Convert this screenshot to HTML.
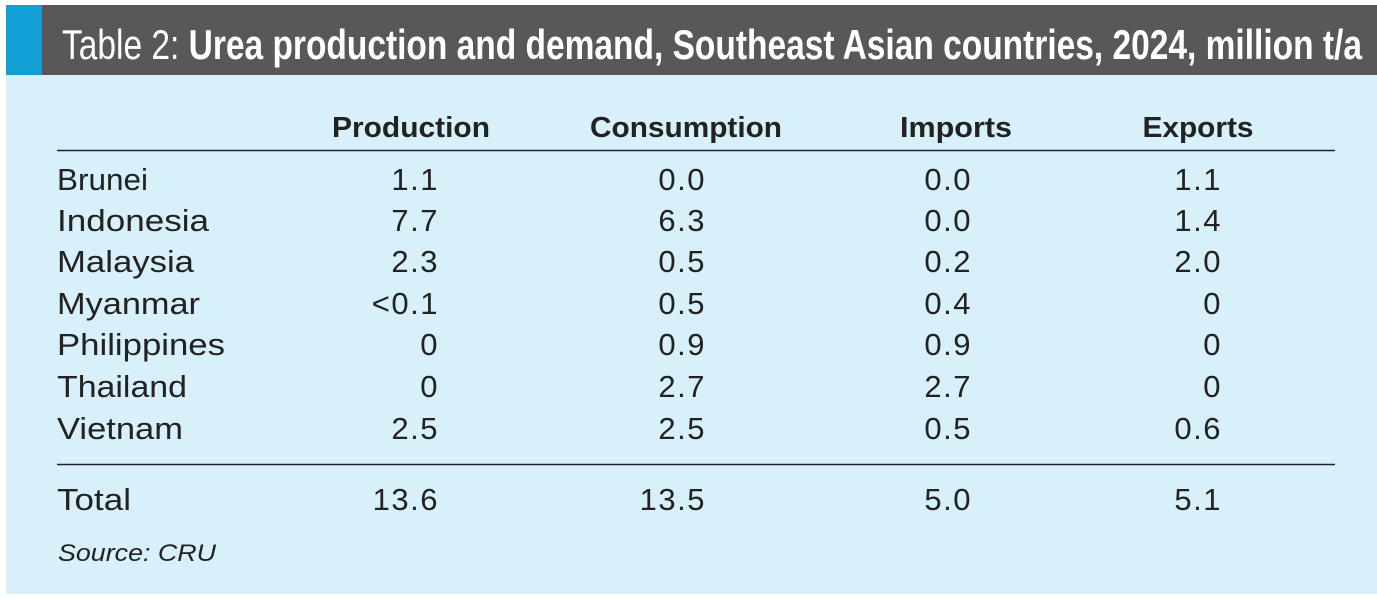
<!DOCTYPE html>
<html><head><meta charset="utf-8"><style>
html,body{margin:0;padding:0;background:#fff;}
svg{display:block}
</style></head><body>
<svg width="1377" height="599" xmlns="http://www.w3.org/2000/svg" font-family="Liberation Sans, sans-serif">
<rect x="0" y="0" width="1377" height="599" fill="#ffffff"/>
<rect x="6" y="75" width="1371" height="519" fill="#d7f0fa"/>
<rect x="6" y="5" width="36" height="70" fill="#119fd6"/>
<rect x="42" y="5" width="1335" height="70" fill="#595758"/>
<text x="62" y="59" font-size="42" fill="#fff" textLength="1300" lengthAdjust="spacingAndGlyphs">Table 2: <tspan font-weight="bold">Urea production and demand, Southeast Asian countries, 2024, million t/a</tspan></text>
<g font-size="29" font-weight="bold" fill="#222" text-anchor="middle">
<text x="411" y="137" textLength="158" lengthAdjust="spacingAndGlyphs">Production</text>
<text x="686" y="137" textLength="192" lengthAdjust="spacingAndGlyphs">Consumption</text>
<text x="956" y="137" textLength="112" lengthAdjust="spacingAndGlyphs">Imports</text>
<text x="1198" y="137" textLength="111" lengthAdjust="spacingAndGlyphs">Exports</text>
</g>
<line x1="57" y1="150.5" x2="1335" y2="150.5" stroke="#1c2430" stroke-width="1.5"/>
<line x1="57" y1="464.5" x2="1335" y2="464.5" stroke="#1c2430" stroke-width="1.5"/>
<g font-size="31" fill="#222" lengthAdjust="spacingAndGlyphs">
<text x="57" y="190" textLength="91" lengthAdjust="spacingAndGlyphs">Brunei</text>
<text x="57" y="231" textLength="152" lengthAdjust="spacingAndGlyphs">Indonesia</text>
<text x="57" y="272" textLength="137" lengthAdjust="spacingAndGlyphs">Malaysia</text>
<text x="57" y="314" textLength="143" lengthAdjust="spacingAndGlyphs">Myanmar</text>
<text x="57" y="355" textLength="168" lengthAdjust="spacingAndGlyphs">Philippines</text>
<text x="57" y="397" textLength="130" lengthAdjust="spacingAndGlyphs">Thailand</text>
<text x="57" y="439" textLength="126" lengthAdjust="spacingAndGlyphs">Vietnam</text>
<text x="57" y="510" textLength="74" lengthAdjust="spacingAndGlyphs">Total</text>
</g>
<g font-size="31" fill="#222" text-anchor="end" style="letter-spacing:1.5px">
<text x="439" y="190">1.1</text><text x="706" y="190">0.0</text><text x="972" y="190">0.0</text><text x="1222" y="190">1.1</text>
<text x="439" y="231">7.7</text><text x="706" y="231">6.3</text><text x="972" y="231">0.0</text><text x="1222" y="231">1.4</text>
<text x="439" y="272">2.3</text><text x="706" y="272">0.5</text><text x="972" y="272">0.2</text><text x="1222" y="272">2.0</text>
<text x="439" y="314">&lt;0.1</text><text x="706" y="314">0.5</text><text x="972" y="314">0.4</text><text x="1222" y="314">0</text>
<text x="439" y="355">0</text><text x="706" y="355">0.9</text><text x="972" y="355">0.9</text><text x="1222" y="355">0</text>
<text x="439" y="397">0</text><text x="706" y="397">2.7</text><text x="972" y="397">2.7</text><text x="1222" y="397">0</text>
<text x="439" y="439">2.5</text><text x="706" y="439">2.5</text><text x="972" y="439">0.5</text><text x="1222" y="439">0.6</text>
<text x="439" y="510">13.6</text><text x="706" y="510">13.5</text><text x="972" y="510">5.0</text><text x="1222" y="510">5.1</text>
</g>
<text x="58" y="561" font-size="24" font-style="italic" fill="#222" textLength="158" lengthAdjust="spacingAndGlyphs">Source: CRU</text>
</svg>
</body></html>
